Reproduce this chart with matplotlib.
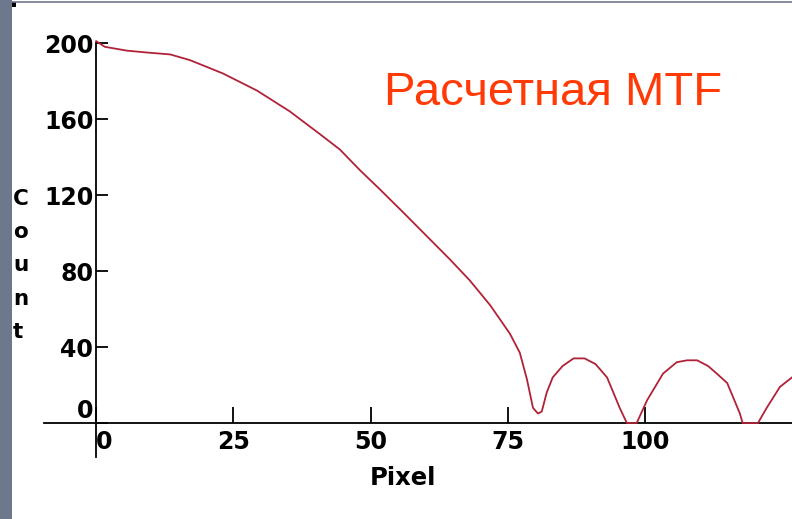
import matplotlib
matplotlib.use("Agg")
import matplotlib.pyplot as plt
from matplotlib.patches import Rectangle
from matplotlib.lines import Line2D

# Computed MTF profile: count versus pixel
pixel = [0, 1.6, 5.6, 9.3, 13.5, 17.1, 23.1, 29.3, 35.3, 40.8, 44.4, 48.1,
         51.7, 55.9, 59.0, 64.5, 68.1, 71.8, 75.4, 77.2, 78.5, 79.6, 80.5,
         81.2, 82.1, 83.2, 85.0, 87.0, 89.0, 91.0, 93.1, 95.4, 96.7, 97.6,
         98.5, 100.4, 103.3, 105.8, 107.7, 109.5, 111.5, 113.1, 115.0, 117.3,
         117.8, 119.2, 120.6, 122.2, 124.6, 126.8]
count = [201, 198, 196, 195, 194, 191, 184, 175, 164, 152, 144, 133,
         123, 111, 102, 86, 75, 62, 47, 37, 23, 8, 5,
         6, 16, 24, 30, 34, 34, 31, 24, 8, 0, 0,
         0, 12, 26, 32, 33, 33, 30, 26, 21, 5,
         0, 0, 0, 8, 19, 24]

x_ticks = [0, 25, 50, 75, 100]
y_ticks = [0, 40, 80, 120, 160, 200]
title_text = "Расчетная MTF"
x_label = "Pixel"
y_label_letters = ["C", "o", "u", "n", "t"]

W, H = 792, 519
fig = plt.figure(figsize=(W / 100, H / 100), dpi=100)
fig.patch.set_facecolor("white")

# decorative frame: bluish-gray strip on the left and a thin rule on top
fig.patches.append(Rectangle((0, 0), 12 / W, 1, transform=fig.transFigure,
                             facecolor="#6e788c", edgecolor="none", zorder=0))
fig.lines.append(Line2D([12 / W, 1], [1 - 1.5 / H, 1 - 1.5 / H],
                        transform=fig.transFigure, color="#6e788c", lw=1.2))
fig.patches.append(Rectangle((12 / W, 1 - 7 / H), 4 / W, 5 / H,
                             transform=fig.transFigure, facecolor="black",
                             edgecolor="none"))

ax = fig.add_axes([44 / W, 62 / H, 748 / W, 417 / H])
ax.set_xlim(-9.5, 126.8)
ax.set_ylim(-17.9, 201.6)
ax.patch.set_alpha(0)

ax.plot(pixel, count, color="#b02238", lw=1.3, clip_on=False, zorder=3)

for side in ("top", "right"):
    ax.spines[side].set_visible(False)
ax.spines["left"].set_position(("data", 0))
ax.spines["bottom"].set_position(("data", 0))
ax.spines["left"].set_bounds(-17.9, 200)
ax.spines["bottom"].set_bounds(-9.5, 126.8)
for side in ("left", "bottom"):
    ax.spines[side].set_linewidth(1.3)
    ax.spines[side].set_color("black")

tick_font = dict(family="DejaVu Sans", weight="bold", size=17)
ax.set_xticks(x_ticks)
ax.set_xticklabels([str(v) for v in x_ticks], fontdict=tick_font)
ax.set_yticks(y_ticks)
ax.set_yticklabels([str(v) for v in y_ticks], fontdict=tick_font)
ax.tick_params(axis="x", direction="in", length=11.5, width=1.3, pad=5,
               colors="black")
ax.tick_params(axis="y", direction="in", length=8.5, width=1.3, pad=2,
               colors="black")

# the zero labels sit just beside the crossing of the axes
xl0 = ax.get_xticklabels()[0]
xl0.set_ha("left")
yl0 = ax.get_yticklabels()[0]
yl0.set_va("bottom")

fig.text(370 / W, 1 - 485 / H, x_label, ha="left", va="baseline",
         family="DejaVu Sans", weight="bold", size=17.5)

for i, ch in enumerate(y_label_letters):
    fig.text(13 / W, 1 - (205 + 33.2 * i) / H, ch, ha="left", va="baseline",
             family="DejaVu Sans", weight="bold", size=15.5)

fig.text(384 / W, 1 - 105 / H, title_text, ha="left", va="baseline",
         family="Liberation Sans", size=34, color="#ff3a06")

fig.savefig("out.png", dpi=100, facecolor="white")
